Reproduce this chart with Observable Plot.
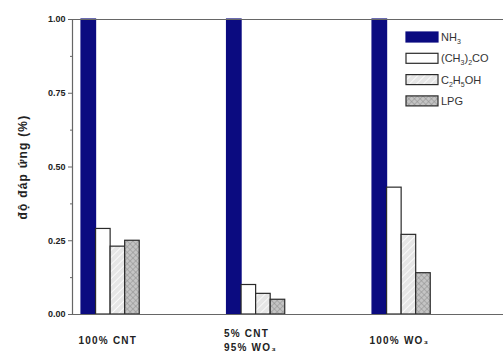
<!DOCTYPE html>
<html>
<head>
<meta charset="utf-8">
<script src="https://cdn.jsdelivr.net/npm/d3@7"></script>
<script src="https://cdn.jsdelivr.net/npm/@observablehq/plot@0.6"></script>
<style>
  html, body { margin: 0; padding: 0; background: #fff; }
  #chart svg { display: block; font-family: "Liberation Sans", Arial, sans-serif; }
</style>
</head>
<body>
<div id="chart"></div>
<script>
// ---- data ----
const groups = ["100% CNT", "5% CNT\n95% WO₃", "100% WO₃"];
const seriesNames = ["NH3", "(CH3)2CO", "C2H5OH", "LPG"];
const nh3 = [1.00, 1.00, 1.00];
const acetone = [0.29, 0.10, 0.43];
const ethanol = [0.23, 0.07, 0.27];
const lpg = [0.25, 0.05, 0.14];
const yTicks = [0, 0.25, 0.5, 0.75, 1];
const yMinorTicks = [0.125, 0.375, 0.625, 0.875];

// ---- layout constants ----
const SLOTS_PER_GROUP = 10;
const seriesValues = [nh3, acetone, ethanol, lpg];
const placeholder = ["#0b0b80", "#ffffff", "#e4e4e3", "#bcbcbb"];

const table = [];
seriesValues.forEach((vals, si) => {
  vals.forEach((v, gi) => {
    table.push({series: seriesNames[si], si, group: groups[gi], x1: gi * SLOTS_PER_GROUP + si, x2: gi * SLOTS_PER_GROUP + si + 1, y: v});
  });
});
const labelData = groups.map((g, gi) => ({label: g, x: gi * SLOTS_PER_GROUP}));

const xDomain = [-0.62, 29.0];

const barMarks = seriesNames.map((s, si) =>
  Plot.rectY(table.filter(d => d.si === si), {
    x1: "x1", x2: "x2", y: "y",
    fill: placeholder[si],
    stroke: si === 0 ? "#0b0b80" : "#2a2a2a",
    strokeWidth: 1.2
  })
);

const chart = Plot.plot({
  width: 503,
  height: 354,
  marginLeft: 72,
  marginTop: 19,
  marginBottom: 40,
  marginRight: 0,
  style: {background: "#fff", overflow: "visible"},
  x: {domain: xDomain, axis: null},
  y: {domain: [0, 1], axis: null},
  marks: [
    ...barMarks,
    Plot.ruleY([0, 1], {stroke: "#666", strokeWidth: 1.2}),
    Plot.ruleX([xDomain[0]], {stroke: "#666", strokeWidth: 1.2}),
    Plot.axisY({ticks: yTicks, tickFormat: d3.format(".2f"), tickSize: 4, tickPadding: 3, label: null, fontSize: 9, fontWeight: "bold", stroke: "#666", fill: "#222"}),
    Plot.axisY({ticks: yMinorTicks, tickSize: 2, tickFormat: () => "", label: null, stroke: "#666"}),
    Plot.text(labelData, {
      x: "x", text: "label", frameAnchor: "bottom", dy: 25, dx: -3,
      textAnchor: "start", lineAnchor: "middle", lineHeight: 1.35,
      fontSize: 10, fontWeight: "bold", fill: "#222"
    })
  ]
});

document.getElementById("chart").appendChild(chart);

const svg = d3.select(chart);

// patterns
const defs = svg.insert("defs", ":first-child");
const p1 = defs.append("pattern").attr("id", "hatch").attr("patternUnits", "userSpaceOnUse")
  .attr("width", 5).attr("height", 5).attr("patternTransform", "rotate(45)");
p1.append("rect").attr("width", 5).attr("height", 5).attr("fill", "#e6e6e6");
p1.append("line").attr("x1", 0).attr("y1", 0).attr("x2", 0).attr("y2", 5).attr("stroke", "#fafafa").attr("stroke-width", 2);
const p2 = defs.append("pattern").attr("id", "cross").attr("patternUnits", "userSpaceOnUse")
  .attr("width", 4).attr("height", 4).attr("patternTransform", "rotate(45)");
p2.append("rect").attr("width", 4).attr("height", 4).attr("fill", "#c4c4c4");
p2.append("line").attr("x1", 0).attr("y1", 0).attr("x2", 0).attr("y2", 4).attr("stroke", "#8d8d8d").attr("stroke-width", 1);
p2.append("line").attr("x1", 0).attr("y1", 0).attr("x2", 4).attr("y2", 0).attr("stroke", "#8d8d8d").attr("stroke-width", 1);

const fills = ["#0b0b80", "#ffffff", "url(#hatch)", "url(#cross)"];
svg.selectAll(`g[fill="${placeholder[2]}"]`).attr("fill", fills[2]);
svg.selectAll(`g[fill="${placeholder[3]}"]`).attr("fill", fills[3]);

// x label letter spacing
svg.selectAll("g[aria-label='text'] text").style("letter-spacing", "1.2px");

// y title
svg.append("text")
  .attr("transform", "translate(24,167) rotate(-90)")
  .attr("text-anchor", "middle")
  .attr("dominant-baseline", "middle")
  .attr("font-size", 12)
  .attr("font-weight", "bold")
  .attr("letter-spacing", "1.2px")
  .attr("fill", "#222")
  .text("độ đáp ứng (%)");

// legend
const legendLabels = [
  [["NH", ""], ["3", "sub"]],
  [["(CH", ""], ["3", "sub"], [")", ""], ["2", "sub"], ["CO", ""]],
  [["C", ""], ["2", "sub"], ["H", ""], ["5", "sub"], ["OH", ""]],
  [["LPG", ""]]
];
const lg = svg.append("g").attr("transform", "translate(406,37)").attr("text-anchor", "start");
legendLabels.forEach((parts, i) => {
  const row = lg.append("g").attr("transform", `translate(0,${i * 21.3})`);
  row.append("rect").attr("x", 0).attr("y", -5).attr("width", 32).attr("height", 10)
    .attr("fill", fills[i]).attr("stroke", i === 0 ? "#0b0b80" : "#2a2a2a").attr("stroke-width", 1.2);
  const t = row.append("text").attr("x", 35).attr("y", 4).attr("font-size", 11)
    .attr("text-anchor", "start").attr("fill", "#333");
  let prevSub = false;
  parts.forEach(([txt, kind]) => {
    const ts = t.append("tspan").text(txt);
    if (kind === "sub") { ts.attr("font-size", 7).attr("dy", 3); prevSub = true; }
    else if (prevSub) { ts.attr("dy", -3); prevSub = false; }
  });
});
</script>
</body>
</html>
